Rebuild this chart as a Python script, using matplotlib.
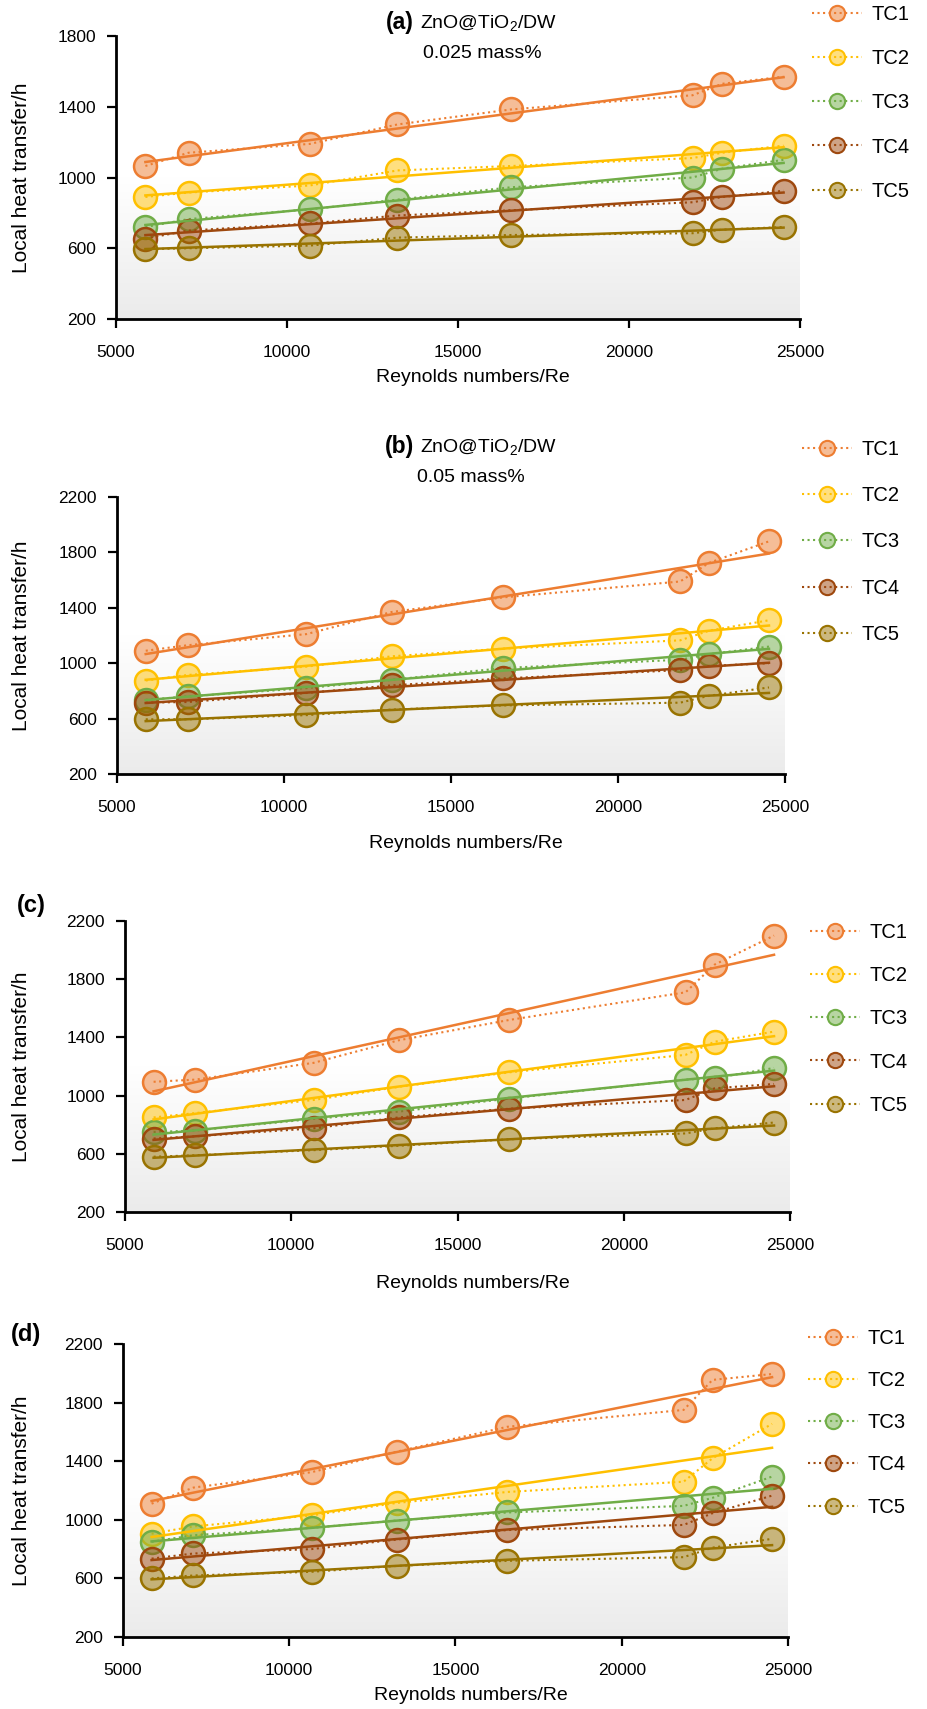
import matplotlib
matplotlib.use('Agg')
import numpy as np
from matplotlib import pyplot as plt
from matplotlib.lines import Line2D
from matplotlib.colors import LinearSegmentedColormap, to_rgba

plt.rcParams['font.family'] = 'Liberation Sans'
plt.rcParams['mathtext.fontset'] = 'custom'
plt.rcParams['mathtext.rm'] = 'Liberation Sans'
plt.rcParams['mathtext.it'] = 'Liberation Sans:italic'
plt.rcParams['mathtext.bf'] = 'Liberation Sans:bold'

# Reynolds numbers (same for all panels)
re_num = [5860, 7120, 10670, 13230, 16560, 21860, 22730, 24520]
labels = ['TC1', 'TC2', 'TC3', 'TC4', 'TC5']

# (a) 0.025 mass%
tc1_a = [1065, 1140, 1190, 1300, 1385, 1465, 1530, 1570]
tc2_a = [890, 915, 955, 1040, 1065, 1110, 1140, 1180]
tc3_a = [720, 765, 820, 875, 945, 1000, 1050, 1100]
tc4_a = [655, 700, 740, 785, 815, 860, 890, 925]
tc5_a = [595, 600, 615, 660, 675, 685, 705, 720]

# (b) 0.05 mass%
tc1_b = [1090, 1130, 1210, 1370, 1475, 1590, 1725, 1880]
tc2_b = [875, 915, 975, 1050, 1105, 1165, 1235, 1310]
tc3_b = [735, 760, 820, 880, 965, 1025, 1065, 1120]
tc4_b = [715, 720, 785, 840, 890, 950, 980, 1000]
tc5_b = [595, 595, 625, 665, 695, 715, 765, 825]

# (c)
tc1_c = [1095, 1110, 1225, 1380, 1520, 1710, 1900, 2100]
tc2_c = [850, 880, 970, 1060, 1160, 1280, 1370, 1440]
tc3_c = [750, 760, 840, 890, 980, 1110, 1120, 1190]
tc4_c = [705, 720, 775, 850, 910, 970, 1050, 1080]
tc5_c = [580, 590, 625, 655, 700, 740, 775, 815]

# (d)
tc1_d = [1110, 1220, 1325, 1465, 1635, 1750, 1955, 1995]
tc2_d = [905, 955, 1030, 1115, 1190, 1260, 1420, 1655]
tc3_d = [850, 895, 945, 995, 1050, 1095, 1150, 1295]
tc4_d = [735, 770, 800, 865, 930, 965, 1045, 1165]
tc5_d = [600, 620, 645, 685, 720, 745, 810, 870]

edge_cols = ['#ED7D31', '#FFC000', '#70AD47', '#9E480E', '#997300']

W, H = 928, 1709
fig = plt.figure(figsize=(W / 100, H / 100), dpi=100)

bg_cmap = LinearSegmentedColormap.from_list('bg', ['#ffffff', '#ffffff', '#ebebeb'])


def px_rect(left, right, top, bottom):
    return [left / W, 1 - bottom / H, (right - left) / W, (bottom - top) / H]


def panel(rect, series, ymax, xlab_gap, leg_xy, leg_space):
    left, right, top, bottom = rect
    ax = fig.add_axes(px_rect(left, right, top, bottom))
    grad = np.linspace(0, 1, 256).reshape(-1, 1)
    ax.imshow(grad, cmap=bg_cmap, extent=[0, 1, 0, 1], transform=ax.transAxes,
              aspect='auto', zorder=0, origin='upper')
    x = np.array(re_num)
    for y, c in zip(series, edge_cols):
        y = np.array(y)
        ax.plot(x, y, ls=':', lw=1.5, color=c, marker='o', ms=16.5,
                mfc=to_rgba(c, 0.5), mec=c, mew=1.8, zorder=3)
        fit = np.polyfit(x, y, 1)
        ax.plot(x[[0, -1]], np.polyval(fit, x[[0, -1]]), color=c, lw=1.8, zorder=4)
    ax.set_xlim(5000, 25000)
    ax.set_ylim(200, ymax)
    ax.set_xticks(range(5000, 25001, 5000))
    ax.set_yticks(range(200, ymax + 1, 400))
    for s in ['top', 'right']:
        ax.spines[s].set_visible(False)
    for s in ['left', 'bottom']:
        ax.spines[s].set_linewidth(2)
    ax.tick_params(axis='both', direction='out', length=6.5, width=1.6, labelsize=12.5)
    ax.tick_params(axis='y', pad=8)
    ax.tick_params(axis='x', pad=12)
    # labels
    fig.text(22 / W, 1 - (top + bottom) / 2 / H, 'Local heat transfer/h', rotation=90,
             ha='center', va='center', fontsize=15)
    fig.text(((left + right) / 2 + 15) / W, 1 - (bottom + xlab_gap) / H, 'Reynolds numbers/Re',
             ha='center', va='center', fontsize=14)
    handles = [Line2D([], [], ls=':', lw=1.5, color=c, marker='o', ms=11,
                      mfc=to_rgba(c, 0.5), mec=c, mew=1.5) for c in edge_cols]
    ax.legend(handles, labels, loc='upper left',
              bbox_to_anchor=(leg_xy[0] / W, 1 - leg_xy[1] / H),
              bbox_transform=fig.transFigure, frameon=False, fontsize=14.5,
              handlelength=2.5, handletextpad=0.45, labelspacing=leg_space,
              borderpad=0, borderaxespad=0)
    return ax


panel((116, 800, 36, 319), [tc1_a, tc2_a, tc3_a, tc4_a, tc5_a], 1800, 58, (812, 5), 1.25)
panel((117, 785, 497, 774), [tc1_b, tc2_b, tc3_b, tc4_b, tc5_b], 2200, 70, (802, 440), 1.35)
panel((125, 790, 921, 1212), [tc1_c, tc2_c, tc3_c, tc4_c, tc5_c], 2200, 71, (810, 923), 1.2)
panel((123, 788, 1344, 1637), [tc1_d, tc2_d, tc3_d, tc4_d, tc5_d], 2200, 58, (808, 1329), 1.15)

# panel titles
fig.text(414 / W, 1 - 23 / H, '(a)', ha='right', va='center', fontsize=16.5, fontweight='bold')
fig.text(420 / W, 1 - 23 / H, 'ZnO@TiO$_2$/DW', ha='left', va='center', fontsize=14)
fig.text(482 / W, 1 - 54 / H, '0.025 mass%', ha='center', va='center', fontsize=14)
fig.text(414 / W, 1 - 447 / H, '(b)', ha='right', va='center', fontsize=16.5, fontweight='bold')
fig.text(420 / W, 1 - 447 / H, 'ZnO@TiO$_2$/DW', ha='left', va='center', fontsize=14)
fig.text(471 / W, 1 - 477 / H, '0.05 mass%', ha='center', va='center', fontsize=14)
fig.text(31 / W, 1 - 905 / H, '(c)', ha='center', va='center', fontsize=17, fontweight='bold')
fig.text(26 / W, 1 - 1335 / H, '(d)', ha='center', va='center', fontsize=17, fontweight='bold')

plt.savefig('out.png', dpi=100)
